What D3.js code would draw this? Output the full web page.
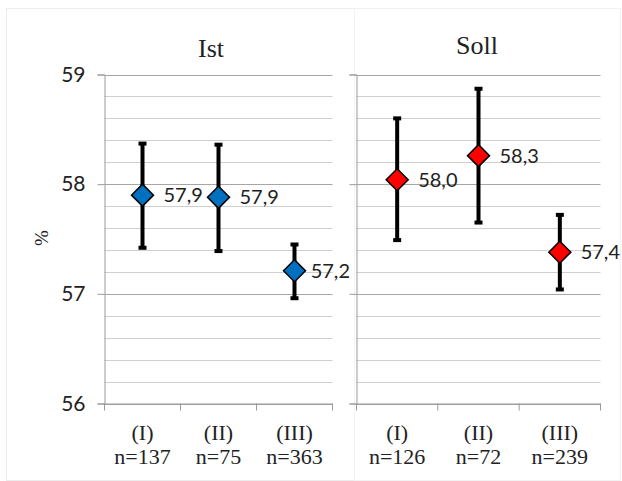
<!DOCTYPE html>
<html>
<head>
<meta charset="utf-8">
<script src="https://cdn.jsdelivr.net/npm/d3@7"></script>
<style>
  body { margin: 0; background: #fff; }
  svg { display: block; }
</style>
</head>
<body>
<div id="chart"></div>
<script>
const categories = ["(I)", "(II)", "(III)"];
const istN = ["n=137", "n=75", "n=363"];
const sollN = ["n=126", "n=72", "n=239"];
const istMean = [57.90, 57.88, 57.21];
const istLow = [57.42, 57.39, 56.96];
const istHigh = [58.37, 58.36, 57.45];
const sollMean = [58.04, 58.26, 57.38];
const sollLow = [57.49, 57.65, 57.04];
const sollHigh = [58.60, 58.87, 57.72];
const yTicks = [56, 57, 58, 59];

const width = 622, height = 481;
const serif = "'Liberation Serif', serif";
const sans = "Lato, 'Liberation Sans', sans-serif";

const svg = d3.select("#chart").append("svg")
    .attr("width", width)
    .attr("height", height);

// faint chart frames
svg.append("rect").attr("x", 6.5).attr("y", 8.5).attr("width", 348).attr("height", 472)
    .attr("fill", "none").attr("stroke", "#ececec");
svg.append("rect").attr("x", 354.5).attr("y", 8.5).attr("width", 266).attr("height", 472)
    .attr("fill", "none").attr("stroke", "#f2f2f2");

const y = d3.scaleLinear().domain([56, 59]).range([403.5, 74.5]);
const minorTicks = d3.range(56, 59.001, 0.2);

function panel(opts) {
    const x = d3.scaleBand().domain(categories).range([opts.x0, opts.x1]);
    const g = svg.append("g");

    // gridlines
    g.selectAll(".grid")
        .data(minorTicks)
        .enter()
        .append("line")
        .attr("x1", opts.x0).attr("x2", opts.x1)
        .attr("y1", d => Math.round(y(d)) + 0.5)
        .attr("y2", d => Math.round(y(d)) + 0.5)
        .attr("stroke", d => Math.abs(d - Math.round(d)) < 1e-6 ? "#a6a6a6" : "#cfcfcf")
        .attr("stroke-width", 1);

    // y axis
    const yAxis = g.append("g")
        .attr("transform", `translate(${opts.x0},0)`)
        .call(d3.axisLeft(y).tickValues(yTicks).tickSize(7).tickPadding(12)
            .tickFormat(opts.showY ? d3.format("d") : ""));
    yAxis.select(".domain").attr("stroke", "#9a9a9a");
    yAxis.selectAll(".tick line").attr("stroke", "#9a9a9a");
    yAxis.selectAll(".tick text")
        .style("font-family", sans)
        .style("font-size", "21px")
        .attr("fill", "#222");

    // x axis
    const xAxis = g.append("g")
        .attr("transform", `translate(0,${y(56)})`)
        .call(d3.axisBottom(x).tickSize(0).tickFormat(""));
    xAxis.select(".domain").attr("stroke", "#9a9a9a");
    const bounds = [opts.x0].concat(categories.map(c => x(c) + x.bandwidth()));
    g.selectAll(".xtick")
        .data(bounds)
        .enter()
        .append("line")
        .attr("x1", d => d).attr("x2", d => d)
        .attr("y1", y(56)).attr("y2", y(56) + 7)
        .attr("stroke", "#9a9a9a");

    // category labels
    const lab = g.selectAll(".cat")
        .data(categories)
        .enter()
        .append("text")
        .attr("x", d => x(d) + x.bandwidth() / 2)
        .attr("y", 440)
        .attr("text-anchor", "middle")
        .style("font-family", serif)
        .style("font-size", "22px")
        .attr("fill", "#222");
    lab.append("tspan").text(d => d);
    lab.append("tspan")
        .attr("x", d => x(d) + x.bandwidth() / 2)
        .attr("dy", 24)
        .text((d, i) => opts.n[i]);

    const pts = categories.map((c, i) => ({
        c: c, m: opts.mean[i], lo: opts.low[i], hi: opts.high[i]
    }));
    const cx = d => x(d.c) + x.bandwidth() / 2;

    // error bars
    g.selectAll(".err")
        .data(pts)
        .enter()
        .append("line")
        .attr("x1", cx).attr("x2", cx)
        .attr("y1", d => y(d.lo)).attr("y2", d => y(d.hi))
        .attr("stroke", "#000").attr("stroke-width", 4);
    ["lo", "hi"].forEach(k => {
        g.selectAll(".cap-" + k)
            .data(pts)
            .enter()
            .append("line")
            .attr("x1", d => cx(d) - 4).attr("x2", d => cx(d) + 4)
            .attr("y1", d => y(d[k])).attr("y2", d => y(d[k]))
            .attr("stroke", "#000").attr("stroke-width", 4);
    });

    // diamonds
    g.selectAll(".pt")
        .data(pts)
        .enter()
        .append("path")
        .attr("transform", d => `translate(${cx(d)},${y(d.m)})`)
        .attr("d", "M0,-11L11,0L0,11L-11,0Z")
        .attr("fill", opts.color)
        .attr("stroke", "#000")
        .attr("stroke-width", 1.5);

    // value labels, kept inside the chart area like Excel does
    g.selectAll(".val")
        .data(pts)
        .enter()
        .append("text")
        .attr("y", d => y(d.m))
        .attr("dy", "0.35em")
        .text(d => d.m.toFixed(1).replace(".", ","))
        .style("font-family", sans)
        .style("font-size", "20px")
        .attr("fill", "#222")
        .attr("x", function (d) {
            const w = this.getComputedTextLength();
            return Math.min(cx(d) + 21, opts.right - w);
        });

    // title
    g.append("text")
        .attr("x", opts.tx)
        .attr("y", opts.ty)
        .attr("text-anchor", "middle")
        .text(opts.title)
        .style("font-family", serif)
        .style("font-size", "26px")
        .attr("fill", "#222");
}

panel({ x0: 104.5, x1: 332.5, right: 350, tx: 211, ty: 57, title: "Ist", n: istN, mean: istMean, low: istLow, high: istHigh, color: "#0070c0", showY: true });
panel({ x0: 356.5, x1: 600.5, right: 620, tx: 477, ty: 54, title: "Soll", n: sollN, mean: sollMean, low: sollLow, high: sollHigh, color: "#ff0000", showY: false });

// y axis title
svg.append("text")
    .attr("transform", "translate(48,238) rotate(-90)")
    .attr("text-anchor", "middle")
    .text("%")
    .style("font-family", serif)
    .style("font-size", "19px")
    .attr("fill", "#222");
</script>
</body>
</html>
